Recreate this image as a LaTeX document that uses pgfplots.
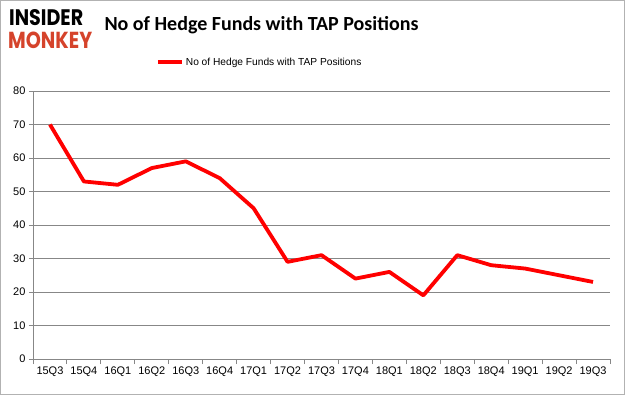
\documentclass[border=0pt]{standalone}
\usepackage{graphicx}
\usepackage{pgfplots}
\pgfplotsset{compat=1.18}
\usepackage{fontspec}
\setmainfont{Liberation Sans}
\newfontfamily\titlefont{Carlito}
\newfontfamily\logofont{Poppins}
\definecolor{monkeyred}{HTML}{D5432B}
\definecolor{gridgray}{HTML}{878787}
\begin{document}
\begin{tikzpicture}[x=1bp,y=1bp]
\path[use as bounding box] (0,0) rectangle (625,395);
\draw[gray!60, line width=1.2bp] (0.6,0.6) rectangle (624.4,394.4);
\node[anchor=north west, inner sep=0] at (9,386) {\resizebox{74bp}{16bp}{\logofont\bfseries INSIDER}};
\node[anchor=south west, inner sep=0] at (8,346) {\resizebox{84bp}{16.5bp}{\logofont\bfseries\color{monkeyred}MONKEY}};
\node[inner sep=0] at (261.5,370) {\titlefont\bfseries\fontsize{20bp}{24bp}\selectfont No of Hedge Funds with TAP Positions};
\begin{axis}[
  at={(33bp,36bp)}, anchor=south west,
  scale only axis, width=577bp, height=268bp,
  xmin=-0.5, xmax=16.5, ymin=0, ymax=80,
  xtick={0,...,16},
  xticklabels={15Q3,15Q4,16Q1,16Q2,16Q3,16Q4,17Q1,17Q2,17Q3,17Q4,18Q1,18Q2,18Q3,18Q4,19Q1,19Q2,19Q3},
  major x tick style={draw=none},
  minor xtick={-0.5,0.5,...,16.5},
  ytick={0,10,...,80},
  ymajorgrids,
  grid style={gridgray, line width=0.9bp},
  axis x line*=bottom, axis y line*=left,
  axis line style={-, gridgray, line width=0.9bp},
  tick style={gridgray, line width=0.9bp},
  tick align=outside,
  major tick length=4bp, minor tick length=5bp,
  ticklabel style={font=\fontsize{11bp}{13bp}\selectfont},
  /pgf/number format/assume math mode=true,
  legend style={at={(0.393,1.108)}, anchor=center, draw=none, fill=none,
    font=\fontsize{10.2bp}{12bp}\selectfont, inner sep=0pt},
  legend image code/.code={\draw[#1] (0bp,0bp) -- (24bp,0bp);},
]
\addplot[red, line width=3.8bp, line join=round] coordinates {
(0,70) (1,53) (2,52) (3,57) (4,59) (5,54) (6,45) (7,29) (8,31)
(9,24) (10,26) (11,19) (12,31) (13,28) (14,27) (15,25) (16,23)
};
\addlegendentry{No of Hedge Funds with TAP Positions}
\end{axis}
\end{tikzpicture}
\end{document}
